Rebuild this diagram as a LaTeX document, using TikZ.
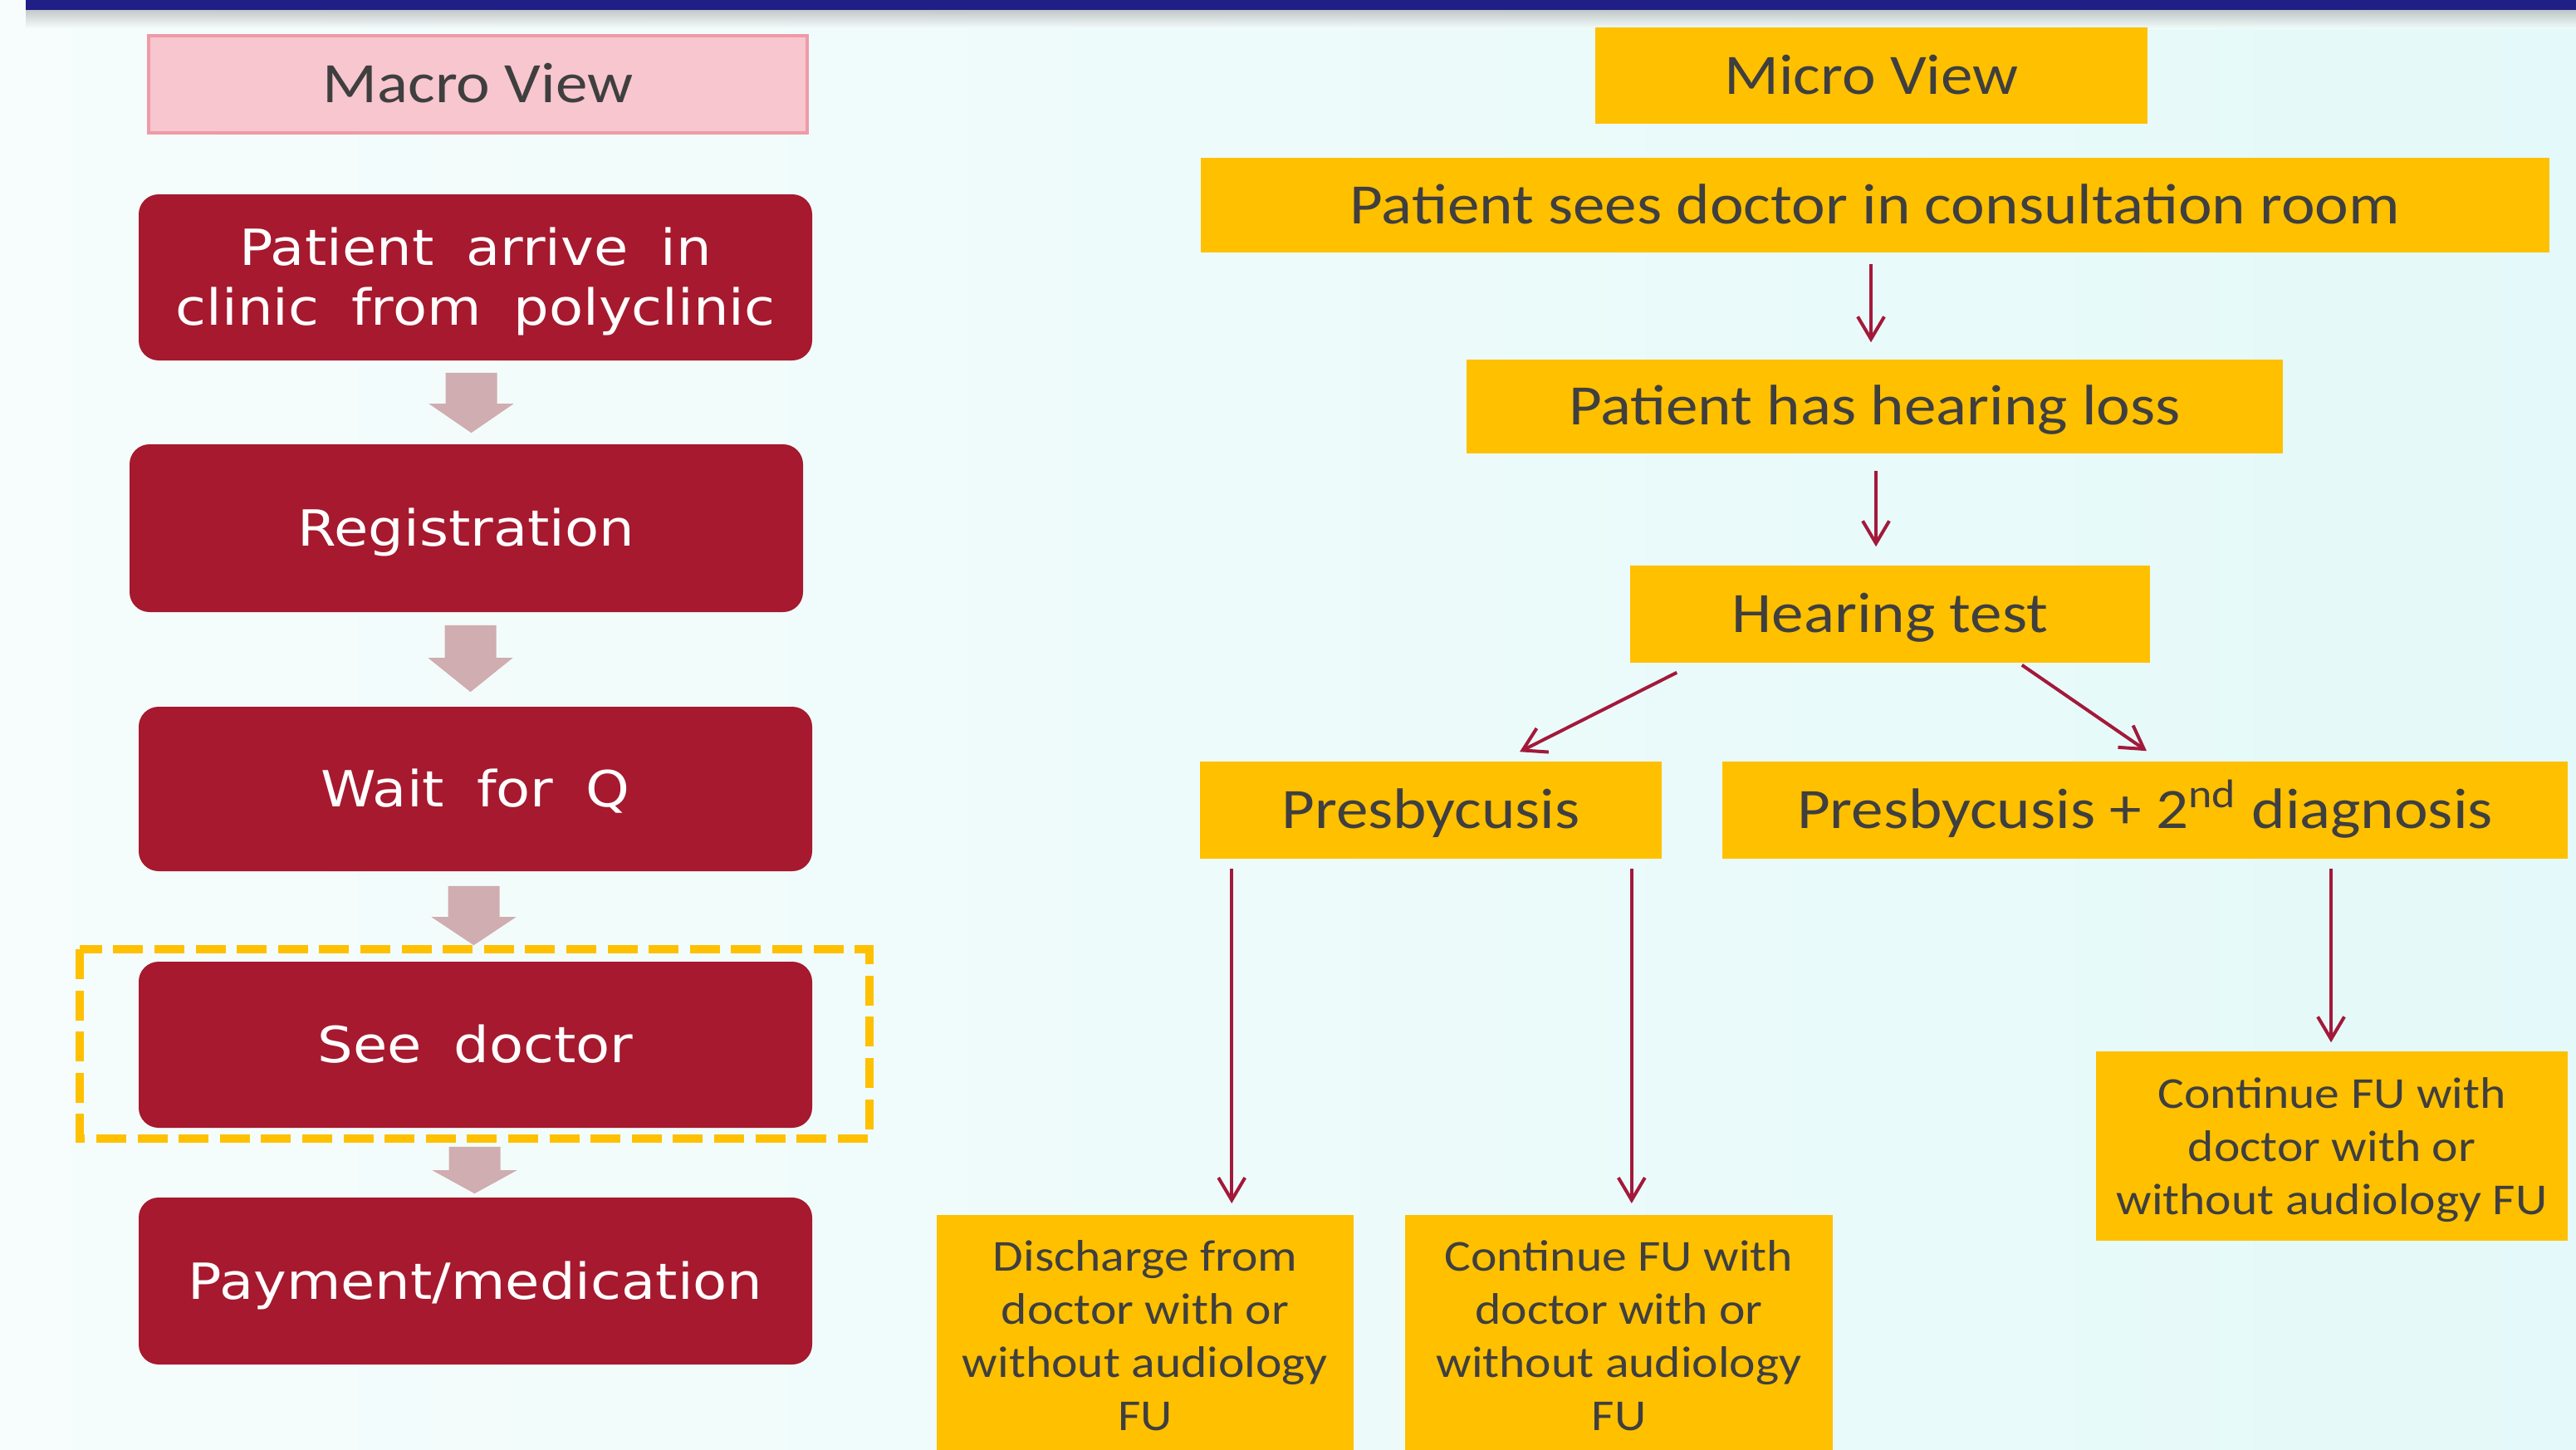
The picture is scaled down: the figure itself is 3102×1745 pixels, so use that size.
\documentclass[tikz,border=0pt]{standalone}
\usepackage{fontspec}
\usetikzlibrary{calc,arrows.meta}
\newfontfamily\calfont[FakeStretch=1.12]{Carlito}
\newfontfamily\verfont[FakeStretch=1.12]{DejaVu Sans}
\definecolor{darkred}{HTML}{A6192E}
\definecolor{palered}{HTML}{D0ADB0}
\definecolor{pinkfill}{HTML}{F8C6CF}
\definecolor{pinkline}{HTML}{EF9AA8}
\definecolor{gold}{HTML}{FFC000}
\definecolor{txtgray}{HTML}{3F3F3F}
\definecolor{navy}{HTML}{1F1F86}
\definecolor{arrowred}{HTML}{A3193A}
\definecolor{bgA}{HTML}{F6FDFC}
\definecolor{bgB}{HTML}{E4F9F9}
\newcommand{\ws}{\hspace{0.65em}}
\begin{document}
\begin{tikzpicture}[x=0.25pt,y=-0.25pt,
  redbox/.style={fill=darkred, rounded corners=6pt, text=white, inner sep=0pt,
    font={\verfont\fontsize{15}{18}\selectfont}, align=center},
  redone/.style={redbox, text height=10.9pt, text depth=0pt},
  ybox/.style={fill=gold, inner sep=0pt, text=txtgray, align=center,
    font={\calfont\fontsize{17.2}{20}\selectfont}, text height=11.08pt, text depth=0pt},
  sbox/.style={fill=gold, inner sep=0pt, text=txtgray, align=center,
    font={\calfont\fontsize{13.3}{16}\selectfont}},
  arr/.style={draw=arrowred, line width=1pt, -{Straight Barb[length=6.75pt,width=8pt]}},
  fat/.style={fill=palered}
]
\useasboundingbox (0,0) rectangle (3102,1745);
\begin{scope}
\clip (0,0) rectangle (3102,1745);
% background
\shade[left color=bgA, right color=bgB] (0,0) rectangle (3102,1745);
\shade[top color=black!35, bottom color=bgA, opacity=0.6] (31,12) rectangle (3102,34);
\fill[navy] (31,0) rectangle (3102,12);

% ---------- Macro view ----------
\node[draw=pinkline, line width=0.8pt, fill=pinkfill, minimum width=198.25pt, minimum height=29.25pt,
  inner sep=0pt, text=txtgray, font={\calfont\fontsize{17.2}{20}\selectfont},
  text height=11.08pt, text depth=0pt] (macro) at (575.5,101.5) {Macro View};

\node[redbox, minimum width=202.75pt, minimum height=50pt] (b1) at (572.5,334)
  {\rule{0pt}{13.9pt}Patient\ws arrive\ws in\\clinic\ws from\ws polyclinic};
\node[redone, minimum width=202.75pt, minimum height=50.5pt] (b2) at (561.5,636) {Registration};
\node[redone, minimum width=202.75pt, minimum height=49.5pt] (b3) at (572.5,950) {Wait\ws for\ws Q};
\node[redone, minimum width=202.75pt, minimum height=50pt] (b4) at (572.5,1258) {See\ws doctor};
\node[redone, minimum width=202.75pt, minimum height=50.25pt] (b5) at (572.5,1542.5) {Payment/medication};

\draw[gold, line width=2.6pt, dash pattern=on 9pt off 3.4pt] (96,1143) rectangle (1047,1371);

% pale block arrows
\newcommand{\fatarrow}[6]{%
  \coordinate (fa-t) at ($(#1.south)+(#3,#4)$);
  \coordinate (fa-p) at ($(fa-t |- #2.north)+(0,-#5)$);
  \fill[fat] ($(fa-t)+(-31,0)$) -- ($(fa-t)+(31,0)$) -- ($(fa-p)+(31,-#6)$) -- ($(fa-p)+(51,-#6)$)
    -- (fa-p) -- ($(fa-p)+(-51,-#6)$) -- ($(fa-p)+(-31,-#6)$) -- cycle;}
\fatarrow{b1}{b2}{-5}{14}{13}{35}
\fatarrow{b2}{b3}{5}{15}{17}{41}
\fatarrow{b3}{b4}{-2}{17}{19}{34}
\fatarrow{b4}{b5}{-1}{22}{4}{28}

% ---------- Micro view ----------
\node[ybox, minimum width=166.25pt, minimum height=29pt] (micro) at (2253.5,91) {Micro View};
\node[ybox, minimum width=406pt, minimum height=28.5pt] (ps) at (2258,247) {Patient sees doctor in consultation room};
\node[ybox, minimum width=245.75pt, minimum height=28.25pt] (hl) at (2257.5,489.5) {Patient has hearing loss};
\node[ybox, minimum width=156.5pt, minimum height=29.25pt] (ht) at (2276,739.5) {Hearing test};
\node[ybox, minimum width=139pt, minimum height=29.25pt] (pb) at (1723,975.5) {Presbycusis};
\node[ybox, minimum width=254.5pt, minimum height=29.25pt] (pb2) at (2583,975.5) {Presbycusis + 2\textsuperscript{nd} diagnosis};
\node[sbox, minimum width=125.5pt, minimum height=72.75pt, anchor=north] (dis) at (1379,1462)
  {Discharge from\\doctor with or\\without audiology\\FU};
\node[sbox, minimum width=128.75pt, minimum height=72.75pt, anchor=north] (cf1) at (1949.5,1462)
  {Continue FU with\\doctor with or\\without audiology\\FU};
\node[sbox, minimum width=142pt, minimum height=57pt] (cf2) at (2808,1380)
  {\rule{0pt}{11.5pt}Continue FU with\\doctor with or\\without audiology FU};

% connectors
\coordinate (s1) at ($(ps.south)+(-5,13)$);
\draw[arr] (s1) -- ($(s1 |- hl.north)+(0,-20)$);
\coordinate (s2) at ($(hl.south)+(1.5,20)$);
\draw[arr] (s2) -- ($(s2 |- ht.north)+(0,-22)$);
\draw[arr] ($(ht.south west)+(57,11)$) -- ($(pb.north)+(107,-11)$);
\draw[arr] ($(ht.south east)+(-155,2)$) -- ($(pb2.north)+(2,-12)$);
\coordinate (s3) at ($(pb.south west)+(39,11)$);
\draw[arr] (s3) -- ($(s3 |- dis.north)+(0,-13)$);
\coordinate (s4) at ($(pb.south east)+(-37,11)$);
\draw[arr] (s4) -- ($(s4 |- cf1.north)+(0,-13)$);
\coordinate (s5) at ($(pb2.south)+(224,11)$);
\draw[arr] (s5) -- ($(s5 |- cf2.north)+(0,-10)$);
\end{scope}
\end{tikzpicture}
\end{document}
